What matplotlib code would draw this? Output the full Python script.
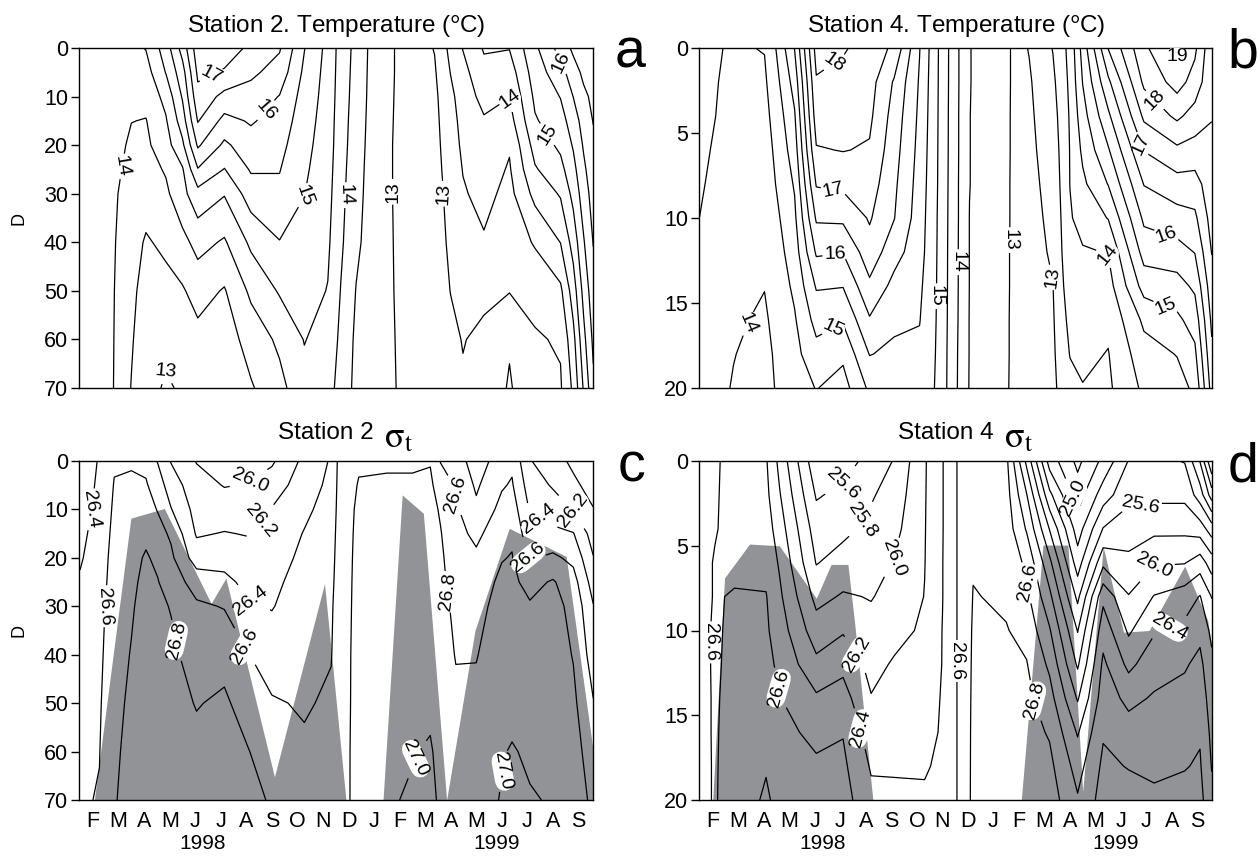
import numpy as np
import matplotlib
matplotlib.use("Agg")
import matplotlib.pyplot as plt

# ---------------------------------------------------------------------------
# Data: month index (Jan 1998 = 0), depth (m), one profile per sampling time
# ---------------------------------------------------------------------------
month_labels = ["F", "M", "A", "M", "J", "J", "A", "S", "O", "N",
                "D", "J", "F", "M", "A", "M", "J", "J", "A", "S"]
year_labels = ["1998", "1999"]

# Station 2 temperature (deg C), depths 0-70 m
st2_depths = [0, 5, 10, 15, 20, 25, 30, 40, 50, 60, 70]
st2_temp_months = [0.45, 1.8, 2.5, 3.07, 3.85, 4.5, 5.1, 6.14, 7.18, 8.3, 9.27,
                   10.19, 10.7, 11.3, 12.2, 13.6, 14.37, 15.0, 15.48, 16.3,
                   17.3, 18.3, 19.3, 19.8, 20.2, 20.58]
st2_temp = [
    [14.30, 14.30, 14.30, 14.30, 14.30, 14.28, 14.25, 14.20, 14.15, 14.15, 14.12],
    [14.35, 14.35, 14.30, 14.28, 14.22, 14.15, 14.08, 14.04, 14.02, 14.01, 14.00],
    [14.40, 14.30, 14.15, 14.01, 13.90, 13.82, 13.76, 13.70, 13.62, 13.55, 13.48],
    [14.52, 14.30, 14.15, 13.98, 13.90, 13.80, 13.70, 13.45, 13.30, 13.20, 13.15],
    [15.25, 15.02, 14.65, 14.45, 14.30, 14.05, 13.90, 13.60, 13.35, 13.10, 12.95],
    [16.20, 15.80, 15.55, 15.25, 14.90, 14.45, 14.35, 13.85, 13.45, 13.20, 13.05],
    [17.30, 17.10, 16.85, 16.53, 16.07, 15.47, 14.83, 14.17, 13.69, 13.35, 13.20],
    [17.25, 16.95, 16.35, 15.85, 15.40, 14.98, 14.53, 13.94, 13.46, 13.25, 13.08],
    [16.90, 16.60, 16.30, 16.05, 15.80, 15.55, 15.25, 14.60, 14.10, 13.70, 13.45],
    [16.55, 16.30, 15.98, 15.80, 15.65, 15.52, 15.40, 14.98, 14.55, 14.10, 13.85],
    [15.52, 15.40, 15.30, 15.22, 15.15, 15.08, 15.01, 14.85, 14.70, 14.52, 14.35],
    [14.85, 14.82, 14.80, 14.77, 14.74, 14.70, 14.66, 14.58, 14.48, 14.30, 14.15],
    [14.30, 14.28, 14.25, 14.22, 14.20, 14.17, 14.14, 14.08, 13.98, 13.90, 13.85],
    [13.85, 13.82, 13.80, 13.77, 13.74, 13.70, 13.67, 13.60, 13.48, 13.40, 13.35],
    [13.15, 13.15, 13.14, 13.13, 13.12, 13.12, 13.12, 13.13, 13.14, 13.16, 13.18],
    [12.80, 12.80, 12.80, 12.80, 12.80, 12.80, 12.80, 12.80, 12.80, 12.80, 12.80],
    [13.02, 12.95, 12.90, 12.88, 12.86, 12.84, 12.82, 12.80, 12.78, 12.76, 12.75],
    [13.65, 13.52, 13.38, 13.30, 13.25, 13.20, 13.15, 13.08, 13.01, 12.90, 12.85],
    [14.02, 13.85, 13.75, 13.67, 13.60, 13.52, 13.45, 13.30, 13.15, 13.02, 12.95],
    [14.55, 14.35, 14.15, 13.95, 13.85, 13.75, 13.65, 13.45, 13.10, 12.90, 12.85],
    [14.52, 14.25, 14.01, 13.80, 13.55, 13.45, 13.35, 13.20, 13.02, 12.55, 12.45],
    [15.40, 15.25, 15.10, 14.95, 14.70, 14.45, 14.15, 13.55, 13.15, 12.95, 12.88],
    [16.20, 15.80, 15.52, 15.30, 15.10, 14.85, 14.55, 14.01, 13.40, 13.05, 12.95],
    [16.60, 16.30, 16.01, 15.75, 15.55, 15.35, 15.15, 14.70, 14.25, 13.85, 13.60],
    [16.75, 16.60, 16.40, 16.20, 16.05, 15.90, 15.75, 15.45, 15.15, 14.85, 14.55],
    [16.80, 16.70, 16.60, 16.52, 16.40, 16.30, 16.20, 16.02, 15.80, 15.60, 15.40],
]

# Station 4 temperature (deg C), depths 0-20 m
st4_depths = [0, 2, 4, 6, 8, 10, 12, 14, 16, 18, 20]
st4_temp_months = [0.41, 1.8, 3.02, 3.48, 4.2, 5.05, 6.1, 7.14, 8.1, 9.1, 9.8,
                   10.6, 11.06, 12.0, 13.0, 13.4, 14.33, 15.0, 15.5, 16.5,
                   17.9, 19.2, 19.9, 20.56]
st4_temp = [
    [14.62, 14.61, 14.60, 14.58, 14.55, 14.51, 14.45, 14.38, 14.30, 14.24, 14.18],
    [14.45, 14.42, 14.40, 14.35, 14.30, 14.25, 14.20, 14.10, 14.05, 14.01, 13.98],
    [14.52, 14.42, 14.35, 14.28, 14.20, 14.12, 14.06, 14.01, 13.95, 13.90, 13.88],
    [15.02, 14.85, 14.70, 14.60, 14.52, 14.40, 14.30, 14.20, 14.10, 14.05, 14.02],
    [16.02, 15.70, 15.45, 15.25, 15.05, 14.90, 14.75, 14.60, 14.45, 14.35, 14.25],
    [18.20, 17.95, 17.75, 17.46, 17.04, 16.57, 16.07, 15.55, 15.17, 14.83, 14.52],
    [18.05, 17.85, 17.65, 17.52, 17.12, 16.60, 16.02, 15.52, 15.05, 14.60, 14.30],
    [17.80, 17.70, 17.60, 17.45, 17.25, 17.05, 16.80, 16.40, 15.95, 15.52, 15.10],
    [17.40, 16.95, 16.80, 16.70, 16.60, 16.52, 16.20, 15.85, 15.60, 15.40, 15.20],
    [16.02, 15.95, 15.90, 15.85, 15.80, 15.75, 15.70, 15.60, 15.52, 15.40, 15.30],
    [15.05, 15.04, 15.03, 15.02, 15.01, 14.99, 14.98, 14.97, 14.96, 14.95, 14.94],
    [14.05, 14.05, 14.04, 14.04, 14.03, 14.03, 14.02, 14.02, 14.01, 13.99, 13.98],
    [13.52, 13.52, 13.51, 13.51, 13.51, 13.49, 13.49, 13.49, 13.48, 13.48, 13.47],
    [13.20, 13.20, 13.19, 13.19, 13.18, 13.18, 13.17, 13.17, 13.16, 13.16, 13.15],
    [12.90, 12.90, 12.90, 12.90, 12.90, 12.90, 12.90, 12.90, 12.90, 12.90, 12.90],
    [13.02, 12.95, 12.92, 12.90, 12.88, 12.86, 12.85, 12.84, 12.83, 12.82, 12.81],
    [13.52, 13.40, 13.30, 13.22, 13.15, 13.10, 13.05, 12.99, 12.95, 12.92, 12.90],
    [14.15, 14.10, 14.05, 14.02, 14.01, 13.95, 13.90, 13.80, 13.65, 13.52, 13.35],
    [15.20, 15.02, 14.80, 14.60, 14.40, 14.20, 13.95, 13.80, 13.70, 13.60, 13.48],
    [17.02, 16.40, 15.90, 15.45, 15.02, 14.52, 14.02, 13.80, 13.60, 13.48, 13.42],
    [18.40, 18.10, 17.60, 17.02, 16.52, 16.10, 15.70, 15.20, 14.60, 14.30, 14.10],
    [19.10, 18.70, 18.10, 17.40, 16.80, 16.30, 15.80, 15.30, 14.90, 14.52, 14.30],
    [18.60, 18.30, 17.80, 17.30, 16.80, 16.40, 16.02, 15.60, 15.20, 14.90, 14.60],
    [17.60, 17.60, 17.52, 17.40, 17.30, 17.20, 17.02, 16.80, 16.60, 16.40, 16.20],
]

# Station 2 sigma-t, depths 0-70 m
st2_sigma_months = [0.49, 1.25, 1.83, 2.5, 3.07, 3.53, 4.05, 5.05, 6.14, 7.05,
                    8.0, 9.27, 10.32, 10.6, 11.0, 11.4, 12.5, 13.5, 14.2, 14.6,
                    15.2, 16.0, 17.0, 17.4, 18.1, 19.0, 19.8, 20.58]
st2_sigma = [
    [26.25, 26.28, 26.31, 26.35, 26.38, 26.42, 26.45, 26.50, 26.53, 26.56, 26.58],
    [26.42, 26.44, 26.46, 26.48, 26.50, 26.52, 26.54, 26.56, 26.58, 26.595, 26.61],
    [26.58, 26.61, 26.63, 26.65, 26.67, 26.68, 26.70, 26.72, 26.74, 26.76, 26.78],
    [26.58, 26.63, 26.68, 26.72, 26.74, 26.76, 26.78, 26.81, 26.84, 26.87, 26.90],
    [26.55, 26.62, 26.68, 26.76, 26.82, 26.85, 26.87, 26.90, 26.92, 26.93, 26.94],
    [26.39, 26.50, 26.59, 26.67, 26.76, 26.81, 26.84, 26.88, 26.90, 26.92, 26.93],
    [26.19, 26.30, 26.41, 26.57, 26.64, 26.70, 26.79, 26.84, 26.87, 26.90, 26.92],
    [25.99, 26.08, 26.13, 26.18, 26.30, 26.52, 26.63, 26.72, 26.79, 26.85, 26.88],
    [25.90, 25.99, 26.10, 26.21, 26.33, 26.45, 26.59, 26.74, 26.83, 26.88, 26.90],
    [25.92, 26.01, 26.10, 26.19, 26.28, 26.35, 26.42, 26.61, 26.72, 26.81, 26.86],
    [25.97, 26.10, 26.21, 26.27, 26.32, 26.36, 26.39, 26.50, 26.62, 26.70, 26.78],
    [26.25, 26.30, 26.36, 26.41, 26.44, 26.47, 26.50, 26.54, 26.58, 26.63, 26.68],
    [26.42, 26.45, 26.48, 26.51, 26.53, 26.55, 26.57, 26.59, 26.63, 26.66, 26.70],
    [26.63, 26.64, 26.65, 26.66, 26.67, 26.68, 26.69, 26.70, 26.71, 26.72, 26.73],
    [26.75, 26.75, 26.75, 26.75, 26.75, 26.75, 26.75, 26.76, 26.76, 26.77, 26.77],
    [26.78, 26.81, 26.84, 26.86, 26.88, 26.90, 26.92, 26.94, 26.96, 26.97, 26.98],
    [26.78, 26.82, 26.86, 26.89, 26.92, 26.94, 26.96, 26.98, 26.99, 26.99, 26.99],
    [26.78, 26.82, 26.86, 26.89, 26.92, 26.94, 26.96, 26.98, 26.985, 26.995, 27.01],
    [26.79, 26.83, 26.86, 26.88, 26.90, 26.91, 26.92, 26.95, 26.98, 27.01, 27.03],
    [26.59, 26.72, 26.78, 26.81, 26.83, 26.84, 26.86, 26.90, 26.94, 26.97, 26.98],
    [26.50, 26.58, 26.63, 26.67, 26.70, 26.73, 26.76, 26.79, 26.84, 26.90, 26.93],
    [26.30, 26.37, 26.44, 26.55, 26.64, 26.70, 26.74, 26.79, 26.85, 26.90, 26.93],
    [26.50, 26.58, 26.66, 26.74, 26.79, 26.84, 26.87, 26.92, 26.96, 26.99, 27.01],
    [26.56, 26.62, 26.70, 26.77, 26.81, 26.84, 26.87, 26.92, 26.96, 27.01, 27.03],
    [26.21, 26.30, 26.38, 26.47, 26.58, 26.74, 26.82, 26.88, 26.93, 26.98, 27.01],
    [26.10, 26.18, 26.30, 26.45, 26.64, 26.82, 26.86, 26.90, 26.93, 26.96, 26.99],
    [25.95, 26.05, 26.19, 26.41, 26.55, 26.68, 26.75, 26.79, 26.84, 26.87, 26.90],
    [25.81, 25.91, 26.01, 26.11, 26.21, 26.31, 26.41, 26.51, 26.61, 26.71, 26.76],
]
# depth of the top of the shaded layer at Station 2 (70 = no shading)
st2_shade_months = [1.05, 2.48, 3.79, 5.62, 6.2, 8.1, 10.06, 10.9, 12.35, 13.1,
                    13.93, 14.84, 15.95, 17.29, 19.52, 20.58]
st2_shade_top = [70, 11.8, 9.8, 29.4, 24.2, 65.2, 25.3, 70, 70, 7.0,
                 10.8, 70, 35.0, 13.9, 19.7, 60.0]

# Station 4 sigma-t, depths 0-20 m
st4_sigma_months = [0.41, 1.07, 1.84, 3.08, 3.6, 5.05, 6.1, 7.2, 8.1, 9.3, 10.0,
                    10.48, 11.0, 11.2, 12.5, 13.3, 14.2, 15.3, 16.3, 17.3, 18.3,
                    19.5, 20.1, 20.56]
st4_sigma = [
    [26.66, 26.66, 26.66, 26.66, 26.66, 26.66, 26.66, 26.67, 26.67, 26.68, 26.68],
    [26.63, 26.62, 26.61, 26.59, 26.59, 26.58, 26.58, 26.58, 26.58, 26.58, 26.58],
    [26.52, 26.53, 26.55, 26.57, 26.61, 26.63, 26.64, 26.66, 26.68, 26.70, 26.72],
    [26.42, 26.45, 26.50, 26.54, 26.61, 26.63, 26.66, 26.70, 26.74, 26.79, 26.82],
    [26.15, 26.22, 26.30, 26.38, 26.44, 26.50, 26.56, 26.61, 26.66, 26.72, 26.76],
    [25.45, 25.58, 25.70, 25.79, 25.94, 26.09, 26.25, 26.43, 26.55, 26.63, 26.68],
    [25.50, 25.65, 25.75, 25.88, 26.02, 26.18, 26.35, 26.48, 26.59, 26.64, 26.68],
    [25.68, 25.78, 25.85, 25.92, 25.99, 26.06, 26.14, 26.21, 26.30, 26.38, 26.45],
    [25.81, 25.88, 25.94, 26.01, 26.06, 26.14, 26.22, 26.28, 26.34, 26.39, 26.42],
    [26.18, 26.185, 26.19, 26.195, 26.205, 26.23, 26.29, 26.34, 26.37, 26.39, 26.415],
    [26.39, 26.39, 26.39, 26.395, 26.395, 26.405, 26.405, 26.41, 26.41, 26.42, 26.43],
    [26.58, 26.58, 26.58, 26.58, 26.58, 26.58, 26.58, 26.58, 26.58, 26.58, 26.58],
    [26.70, 26.70, 26.70, 26.70, 26.70, 26.70, 26.70, 26.70, 26.70, 26.70, 26.70],
    [26.72, 26.74, 26.76, 26.78, 26.81, 26.84, 26.86, 26.88, 26.90, 26.91, 26.92],
    [26.65, 26.68, 26.71, 26.74, 26.77, 26.81, 26.83, 26.86, 26.88, 26.90, 26.91],
    [25.95, 26.21, 26.38, 26.56, 26.65, 26.74, 26.81, 26.85, 26.88, 26.90, 26.91],
    [25.11, 25.45, 25.79, 26.05, 26.25, 26.42, 26.56, 26.68, 26.78, 26.85, 26.90],
    [24.75, 24.90, 25.10, 25.30, 25.55, 25.79, 25.97, 26.18, 26.38, 26.52, 26.62],
    [25.05, 25.30, 25.61, 25.95, 26.35, 26.52, 26.64, 26.70, 26.78, 26.84, 26.88],
    [25.41, 25.55, 25.70, 25.85, 26.01, 26.17, 26.35, 26.55, 26.68, 26.79, 26.88],
    [25.45, 25.55, 25.75, 25.98, 26.21, 26.38, 26.52, 26.62, 26.70, 26.77, 26.83],
    [25.39, 25.55, 25.75, 25.99, 26.30, 26.45, 26.58, 26.66, 26.74, 26.79, 26.86],
    [24.99, 25.30, 25.70, 26.10, 26.41, 26.55, 26.65, 26.72, 26.78, 26.82, 26.86],
    [24.41, 24.90, 25.50, 25.90, 26.19, 26.35, 26.45, 26.50, 26.55, 26.59, 26.65],
]
# depth of the top of the shaded layer at Station 4 (20 = no shading)
st4_shade_months = [0.99, 1.45, 2.43, 3.6, 5.05, 5.63, 6.29, 6.55, 7.27, 13.09,
                    13.94, 14.92, 15.5, 16.3, 17.1, 18.1, 19.5, 20.4, 20.56]
st4_shade_top = [20, 6.9, 4.9, 5.0, 8.1, 6.1, 6.1, 9.5, 20, 20,
                 4.96, 4.96, 19.5, 5.05, 10.1, 10.0, 6.2, 9.4, 11.0]

# ---------------------------------------------------------------------------
plt.rcParams["font.family"] = ["Liberation Sans", "DejaVu Sans"]
plt.rcParams["axes.linewidth"] = 1.0

W, H = 1258, 861
fig = plt.figure(figsize=(W / 100, H / 100), dpi=100)

SHADE = "#929397"
XLIM = (0.45, 20.57)


def add_axes_px(left, top, right, bottom):
    return fig.add_axes([left / W, 1 - bottom / H, (right - left) / W, (bottom - top) / H])


def draw_panel(ax, months, depths, profiles, line_levels, label_levels, fmt, spots,
               dmax, yticks, shade_months=None, shade_top=None):
    z = np.array(profiles).T
    if shade_months is not None:
        ax.fill_between(shade_months, shade_top, dmax, color=SHADE, lw=0, zorder=1)
    plain = [v for v in line_levels if not np.any(np.isclose(v, label_levels))]
    if plain:
        ax.contour(months, depths, z, levels=plain, colors="black",
                   linewidths=0.9, zorder=2)
    cs = ax.contour(months, depths, z, levels=label_levels, colors="black",
                    linewidths=0.9, zorder=2)
    texts = ax.clabel(cs, manual=spots, inline=True, inline_spacing=2,
                      fmt=fmt, fontsize=14)
    for t in texts:
        t.set_bbox(dict(boxstyle="round,pad=0.05,rounding_size=0.6",
                        fc="white", ec="none"))
        t.set_zorder(3)
    ax.set_xlim(*XLIM)
    ax.set_ylim(dmax, 0)
    ax.set_yticks(yticks)
    ax.tick_params(axis="y", direction="out", length=6, width=1, labelsize=15.5, pad=2)
    ax.tick_params(axis="x", length=0, labelsize=15.5, pad=8)
    ax.set_xticks(range(1, 21))
    return cs


temp_levels = list(np.arange(12.5, 19.6, 0.5))
temp_label_levels = [13, 14, 15, 16, 17, 18, 19]
sigma_levels = list(np.round(np.arange(24.4, 27.05, 0.2), 1))

# Panel a
ax_a = add_axes_px(79, 48, 593, 388)
spots_a = [(5.62, 5.5), (7.77, 12.8), (1.95, 24.2), (3.85, 66.5), (9.34, 30.5),
           (10.91, 30.3), (12.8, 29.6), (14.73, 30.0), (17.37, 10.5), (19.0, 17.0),
           (19.5, 2.5)]
draw_panel(ax_a, st2_temp_months, st2_depths, st2_temp, temp_levels, temp_label_levels,
           "%d", spots_a, 70, range(0, 71, 10))
ax_a.set_xticklabels([])

# Panel b
ax_b = add_axes_px(699, 48, 1212, 388)
spots_b = [(5.83, 1.0), (5.77, 8.0), (5.77, 11.8), (5.57, 16.0), (2.0, 16.0),
           (9.75, 14.6), (10.65, 12.6), (12.67, 11.3), (14.27, 13.5), (16.8, 12.1),
           (18.8, 15.0), (18.9, 10.5), (17.9, 5.6), (18.5, 2.8), (19.2, 0.6)]
draw_panel(ax_b, st4_temp_months, st4_depths, st4_temp, temp_levels, temp_label_levels,
           "%d", spots_b, 20, range(0, 21, 5))
ax_b.set_xticklabels([])

# Panel c
ax_c = add_axes_px(79, 461, 593, 800)
spots_c = [(0.95, 10.0), (1.5, 30.0), (4.31, 37.0), (7.18, 4.5), (7.58, 12.5),
           (7.25, 28.0), (7.05, 38.0), (15.15, 7.0), (14.89, 27.0), (13.9, 62.0),
           (17.0, 64.0), (18.5, 11.0), (17.95, 20.0), (19.84, 10.0)]
draw_panel(ax_c, st2_sigma_months, st2_depths, st2_sigma, sigma_levels, sigma_levels,
           "%.1f", spots_c, 70, range(0, 71, 10), st2_shade_months, st2_shade_top)
ax_c.set_xticklabels(month_labels)

# Panel d
ax_d = add_axes_px(699, 461, 1212, 800)
spots_d = [(6.09, 1.3), (6.75, 3.4), (8.19, 5.8), (1.03, 10.7), (3.6, 13.4),
           (6.62, 11.4), (6.75, 15.8), (10.57, 11.8), (13.22, 7.2), (13.88, 14.0),
           (15.1, 2.2), (17.8, 2.8), (18.3, 6.2), (18.9, 9.8)]
draw_panel(ax_d, st4_sigma_months, st4_depths, st4_sigma, sigma_levels, sigma_levels,
           "%.1f", spots_d, 20, range(0, 21, 5), st4_shade_months, st4_shade_top)
ax_d.set_xticklabels(month_labels)

# Depth axis labels
for ax in (ax_a, ax_c):
    ax.set_ylabel("D", fontsize=13)
    ax.yaxis.set_label_coords(-0.10, 0.5)

# Year labels below the month letters
for ax in (ax_c, ax_d):
    for xm, yl in zip((5.3, 16.8), year_labels):
        ax.text(xm, -0.128, yl, transform=ax.get_xaxis_transform(),
                ha="center", va="center", fontsize=15)

# Panel titles
for cx in (336, 956):
    station = "2" if cx < 600 else "4"
    fig.text(cx / W, 1 - 26 / H, "Station %s. Temperature ($^{\\rm o}$C)" % station,
             ha="center", va="center", fontsize=17.5, math_fontfamily="stixsans")
    fig.text((cx + 38) / W, 1 - 433 / H, "Station %s" % station,
             ha="right", va="center", fontsize=17.5)
    fig.text((cx + 48) / W, 1 - 438 / H, r"$\mathrm{\sigma}_{\mathrm{t}}$",
             ha="left", va="center", fontsize=26, math_fontfamily="stix")

# Panel letters
for x, y, s in ((630, 67, "a"), (1243, 67, "b"), (632, 482, "c"), (1243, 482, "d")):
    fig.text(x / W, 1 - y / H, s, ha="center", va="baseline", fontsize=40)

fig.savefig("out.png", dpi=100)
